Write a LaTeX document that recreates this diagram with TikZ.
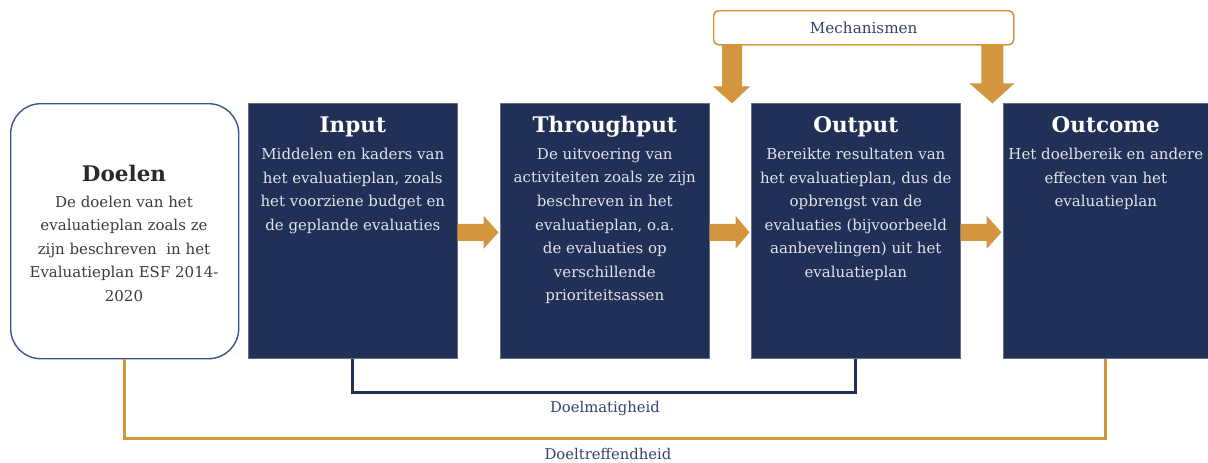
\documentclass[tikz,border=0pt]{standalone}
\usepackage{fontspec}
\setmainfont{DejaVu Serif}
\usetikzlibrary{calc}
\definecolor{navy}{HTML}{213057}
\definecolor{gold}{HTML}{D3963F}
\definecolor{rim}{HTML}{3B5591}
\definecolor{ink}{HTML}{2A2A2A}
\definecolor{softink}{HTML}{3C3C3C}
\definecolor{pale}{HTML}{E2E3EA}
\definecolor{labelink}{HTML}{34426E}
\tikzset{
  darkbox/.style={fill=navy, draw=navy!70!white, line width=0.6pt, minimum width=209, minimum height=255, anchor=north west, inner sep=0pt},
  goalbox/.style={fill=white, draw=rim, line width=1.4pt, rounded corners=30pt, minimum width=228, minimum height=255, anchor=north west, inner sep=0pt},
  mechbox/.style={fill=white, draw=gold, line width=1.4pt, rounded corners=5pt, minimum width=300, minimum height=34, anchor=north west, inner sep=0pt},
  boxtitle/.style={anchor=base, text=white, font=\fontsize{21.5}{24}\selectfont\bfseries, inner sep=0pt},
  boxbody/.style={anchor=north, text=pale, align=center, font=\fontsize{15}{23.6}\selectfont, inner sep=0pt},
  goaltitle/.style={anchor=base, text=ink, font=\fontsize{21.5}{24}\selectfont\bfseries, inner sep=0pt},
  goalbody/.style={anchor=north, text=softink, align=center, font=\fontsize{15}{23.4}\selectfont, inner sep=0pt},
  smalllabel/.style={text=labelink, font=\fontsize{14.8}{16}\selectfont, inner sep=0pt},
  navyline/.style={draw=navy, line width=3pt},
  goldline/.style={draw=gold, line width=3pt},
}
% horizontal block arrow from east side of #1 to west side of #2
\newcommand{\flowarrow}[2]{%
  \fill[gold] ($(#1.east)+(0,-7)$) -- ($(#1.east)+(26,-7)$) -- ($(#1.east)+(26,-15)$)
    -- ($(#2.west)+(-1.5,1.5)$) -- ($(#1.east)+(26,18)$) -- ($(#1.east)+(26,10)$)
    -- ($(#1.east)+(0,10)$) -- cycle;}
\begin{document}
\begin{tikzpicture}[x=1pt,y=-1pt]
\useasboundingbox (0,0) rectangle (1208,463);
% boxes
\node[goalbox] (doelen) at (10,103) {};
\node[darkbox] (input) at (248,103) {};
\node[darkbox] (through) at (500,103) {};
\node[darkbox] (output) at (751,103) {};
\node[darkbox, minimum width=205] (outcome) at (1003,103) {};
% texts
\node[goaltitle] (doelenT) at (124,181) {Doelen};
\node[goalbody] (doelenB) at (124,196) {De doelen van het\\evaluatieplan zoals ze\\zijn beschreven\ \ in het\\Evaluatieplan ESF 2014-\\2020};
\node[boxtitle] (inputT) at (input.north |- 0,132) {Input};
\node[boxbody] (inputB) at (input.north |- 0,148) {Middelen en kaders van\\het evaluatieplan, zoals\\het voorziene budget en\\de geplande evaluaties};
\node[boxtitle] (throughT) at (through.north |- 0,132) {Throughput};
\node[boxbody] (throughB) at (through.north |- 0,148) {De uitvoering van\\activiteiten zoals ze zijn\\beschreven in het\\evaluatieplan, o.a.\\de evaluaties op\\verschillende\\prioriteitsassen};
\node[boxtitle] (outputT) at (output.north |- 0,132) {Output};
\node[boxbody] (outputB) at (output.north |- 0,148) {Bereikte resultaten van\\het evaluatieplan, dus de\\opbrengst van de\\evaluaties (bijvoorbeeld\\aanbevelingen) uit het\\evaluatieplan};
\node[boxtitle] (outcomeT) at (outcome.north |- 0,132) {Outcome};
\node[boxbody] (outcomeB) at (outcome.north |- 0,148) {Het doelbereik en andere\\effecten van het\\evaluatieplan};
% flow arrows
\flowarrow{input}{through}
\flowarrow{through}{output}
\flowarrow{output}{outcome}
% mechanisms
\node[mechbox] (mech) at (713,10) {};
\fill[gold] ($(mech.south west)+(9,-2)$) -- ($(mech.south west)+(29,-2)$) -- ($(mech.south west)+(29,41)$)
  -- ($(mech.south west)+(37,41)$) -- ($(mech.south west)+(19,58)$) -- ($(mech.south west)+(0,41)$)
  -- ($(mech.south west)+(9,41)$) -- cycle;
\fill[gold] ($(mech.south east)+(-33,-2)$) -- ($(mech.south east)+(-11,-2)$) -- ($(mech.south east)+(-11,38)$)
  -- ($(mech.south east)+(0,38)$) -- ($(mech.south east)+(-22,58)$) -- ($(mech.south east)+(-45,38)$)
  -- ($(mech.south east)+(-33,38)$) -- cycle;
\node[mechbox] at (713,10) {};
\node[smalllabel, font=\fontsize{15.2}{16}\selectfont] (mechT) at (mech.center) {Mechanismen};
% brackets
\draw[navyline] (input.south) -- ++(0,34) coordinate (dmL) -| (output.south);
\draw[goldline] (doelen.south) -- ++(0,79) coordinate (dtL) -| (outcome.south);
\node[smalllabel] (dm) at (605,409) {Doelmatigheid};
\node[smalllabel] (dt) at (608,454) {Doeltreffendheid};
\end{tikzpicture}
\end{document}
